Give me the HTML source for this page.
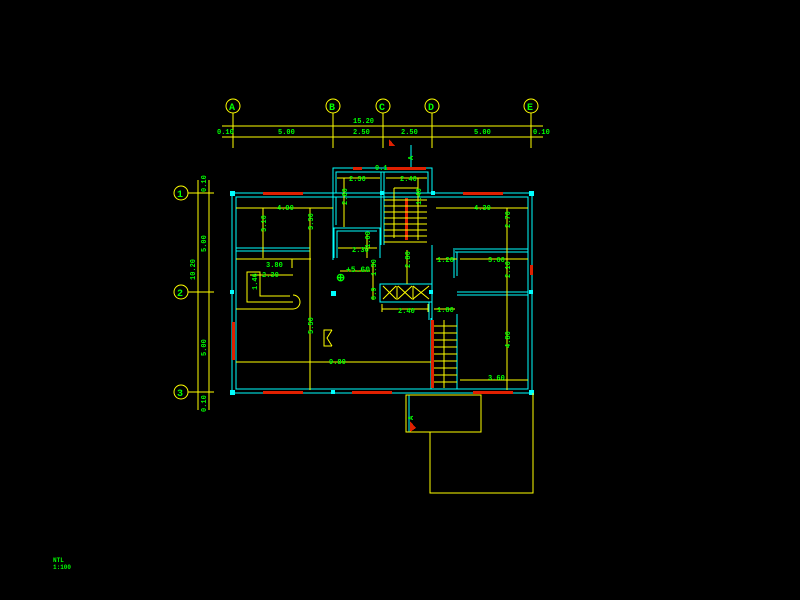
<!DOCTYPE html>
<html><head><meta charset="utf-8"><style>
html,body{margin:0;padding:0;background:#000;width:800px;height:600px;overflow:hidden}
svg text{font-family:"Liberation Mono",monospace;fill:#0f0;font-size:7px;font-weight:bold}
</style></head><body>
<svg width="800" height="600" viewBox="0 0 800 600" xmlns="http://www.w3.org/2000/svg" shape-rendering="crispEdges">
<rect width="800" height="600" fill="#000"/>
<g stroke="#ff0" fill="none" stroke-width="1">
<circle cx="233" cy="106" r="7" shape-rendering="auto"/><circle cx="333" cy="106" r="7" shape-rendering="auto"/><circle cx="383" cy="106" r="7" shape-rendering="auto"/><circle cx="432" cy="106" r="7" shape-rendering="auto"/><circle cx="531" cy="106" r="7" shape-rendering="auto"/>
<line x1="222" y1="126" x2="543" y2="126"/><line x1="222" y1="137" x2="543" y2="137"/>
<line x1="233" y1="113" x2="233" y2="148"/><line x1="333" y1="113" x2="333" y2="148"/><line x1="383" y1="113" x2="383" y2="148"/><line x1="432" y1="113" x2="432" y2="148"/><line x1="531" y1="113" x2="531" y2="148"/>
<circle cx="181" cy="193" r="7" shape-rendering="auto"/><circle cx="181" cy="292" r="7" shape-rendering="auto"/><circle cx="181" cy="392" r="7" shape-rendering="auto"/>
<line x1="198" y1="180" x2="198" y2="410"/><line x1="209" y1="180" x2="209" y2="410"/>
<line x1="188" y1="193" x2="214" y2="193"/><line x1="188" y1="292" x2="214" y2="292"/><line x1="188" y1="392" x2="214" y2="392"/>
</g>
<g>
<text x="229" y="110" style="font-size:10px">A</text><text x="329" y="110" style="font-size:10px">B</text><text x="379" y="110" style="font-size:10px">C</text><text x="428" y="110" style="font-size:10px">D</text><text x="527" y="110" style="font-size:10px">E</text>
<text x="177" y="197" style="font-size:10px">1</text><text x="177" y="296" style="font-size:10px">2</text><text x="177" y="396" style="font-size:10px">3</text>
</g>
<text x="353" y="123">15.20</text><text x="217" y="134">0.10</text><text x="278" y="134">5.00</text><text x="353" y="134">2.50</text><text x="401" y="134">2.50</text><text x="474" y="134">5.00</text><text x="533" y="134">0.10</text>
<text transform="translate(206,192) rotate(-90)">0.10</text><text transform="translate(206,252) rotate(-90)">5.00</text><text transform="translate(195,280) rotate(-90)">10.20</text><text transform="translate(206,356) rotate(-90)">5.00</text><text transform="translate(206,412) rotate(-90)">0.10</text>
<g stroke="#0ff" fill="none" stroke-width="1">
<rect x="232" y="193" width="300" height="200"/><rect x="236" y="197" width="292" height="192"/>
<polyline points="333,193 333,168 432,168 432,193"/><polyline points="336,193 336,172 428,172 428,193"/>
<line x1="381" y1="172" x2="381" y2="245"/><line x1="384" y1="172" x2="384" y2="245"/>
<line x1="333" y1="193" x2="333" y2="260"/><line x1="336" y1="197" x2="336" y2="225"/>
<polyline points="334,258 334,228 380,228 380,258"/><polyline points="337,258 337,231 377,231"/>
<line x1="236" y1="248" x2="310" y2="248"/><line x1="236" y1="251" x2="310" y2="251"/>
<rect x="380" y="284" width="52" height="18"/>
<line x1="432" y1="245" x2="432" y2="320"/><line x1="429" y1="302" x2="429" y2="320"/>
<line x1="457" y1="314" x2="457" y2="389"/><line x1="431" y1="318" x2="431" y2="389"/>
<line x1="455" y1="249" x2="528" y2="249"/><line x1="455" y1="252" x2="528" y2="252"/>
<line x1="457" y1="252" x2="457" y2="276"/>
<line x1="457" y1="292" x2="528" y2="292"/><line x1="457" y1="295" x2="528" y2="295"/>
<line x1="411" y1="145" x2="411" y2="168"/><line x1="409" y1="395" x2="409" y2="432"/>
<line x1="454" y1="248" x2="454" y2="278"/>
</g>
<g fill="#0ff"><rect x="230" y="191" width="5" height="5"/><rect x="529" y="191" width="5" height="5"/><rect x="230" y="390" width="5" height="5"/><rect x="529" y="390" width="5" height="5"/><rect x="380" y="191" width="4" height="4"/><rect x="431" y="191" width="4" height="4"/><rect x="331" y="291" width="5" height="5"/><rect x="230" y="290" width="4" height="4"/><rect x="529" y="290" width="4" height="4"/><rect x="331" y="390" width="4" height="4"/><rect x="429" y="290" width="4" height="4"/></g>
<g fill="#e02000">
<rect x="263" y="192" width="40" height="3"/><rect x="463" y="192" width="40" height="3"/><rect x="387" y="167" width="39" height="3"/><rect x="353" y="167" width="9" height="3"/>
<rect x="263" y="391" width="40" height="3"/><rect x="352" y="391" width="40" height="3"/><rect x="473" y="391" width="40" height="3"/>
<rect x="232" y="322" width="3" height="38"/><rect x="530" y="265" width="3" height="10"/>
<rect x="405" y="198" width="3" height="42"/><rect x="431" y="320" width="3" height="68"/>
<polygon points="389,139 389,146 395,146"/><polygon points="410,421 410,432 416,428"/>
</g>
<g stroke="#ff0" fill="none" stroke-width="1">
<line x1="236" y1="208" x2="333" y2="208"/><line x1="263" y1="208" x2="263" y2="258"/><line x1="310" y1="208" x2="310" y2="390"/>
<line x1="337" y1="178" x2="380" y2="178"/><line x1="344" y1="178" x2="344" y2="227"/>
<line x1="386" y1="178" x2="427" y2="178"/><line x1="418" y1="178" x2="418" y2="240"/>
<line x1="394" y1="188" x2="418" y2="188"/><line x1="394" y1="188" x2="394" y2="238"/>
<line x1="384" y1="200" x2="427" y2="200"/><line x1="384" y1="206" x2="427" y2="206"/><line x1="384" y1="212" x2="427" y2="212"/><line x1="384" y1="218" x2="427" y2="218"/><line x1="384" y1="224" x2="427" y2="224"/><line x1="384" y1="230" x2="427" y2="230"/><line x1="384" y1="236" x2="427" y2="236"/><line x1="384" y1="242" x2="427" y2="242"/>
<line x1="436" y1="208" x2="528" y2="208"/><line x1="507" y1="208" x2="507" y2="390"/>
<line x1="338" y1="248" x2="377" y2="248"/><line x1="367" y1="235" x2="367" y2="258"/>
<line x1="236" y1="259" x2="311" y2="259"/><line x1="292" y1="259" x2="292" y2="268"/>
<polyline points="293,302 247,302 247,272 260,272 260,296 290,296"/>
<path d="M250,275 H293 M236,309 H293" />
<path d="M293,309 a7,7 0 0 0 0,-14" shape-rendering="auto"/>
<line x1="236" y1="362" x2="431" y2="362"/>
<polyline points="332,346 324,346 324,330 332,330"/><path d="M332,330 l-5,8 l5,8" shape-rendering="auto"/>
<line x1="373" y1="262" x2="373" y2="300"/><line x1="407" y1="250" x2="407" y2="284"/>
<line x1="382" y1="309" x2="428" y2="309"/><line x1="382" y1="304" x2="382" y2="312"/><line x1="428" y1="304" x2="428" y2="312"/>
<line x1="434" y1="309" x2="455" y2="309"/>
<path d="M383,286 l13,13 M396,286 l-13,13 M398,286 l14,13 M412,286 l-14,13 M413,286 l16,13 M429,286 l-16,13" shape-rendering="auto"/>
<line x1="397" y1="286" x2="397" y2="300"/><line x1="413" y1="286" x2="413" y2="300"/>
<line x1="434" y1="326" x2="457" y2="326"/><line x1="434" y1="333" x2="457" y2="333"/><line x1="434" y1="340" x2="457" y2="340"/><line x1="434" y1="347" x2="457" y2="347"/><line x1="434" y1="354" x2="457" y2="354"/><line x1="434" y1="361" x2="457" y2="361"/><line x1="434" y1="368" x2="457" y2="368"/><line x1="434" y1="375" x2="457" y2="375"/><line x1="434" y1="382" x2="457" y2="382"/>
<line x1="444" y1="320" x2="444" y2="388"/>
<line x1="436" y1="259" x2="457" y2="259"/><line x1="460" y1="259" x2="528" y2="259"/>
<line x1="460" y1="380" x2="528" y2="380"/>
<line x1="340" y1="271" x2="370" y2="271"/>
<rect x="406" y="395" width="75" height="37"/>
<polyline points="430,432 430,493 533,493 533,393"/>
</g>
<text x="277" y="210">4.90</text><text x="474" y="210">4.30</text><text x="349" y="181">2.30</text><text x="400" y="181">2.40</text><text x="375" y="170">0.1</text>
<text transform="translate(266,232) rotate(-90)">3.10</text><text transform="translate(313,230) rotate(-90)">3.30</text><text transform="translate(347,205) rotate(-90)">2.60</text><text transform="translate(421,205) rotate(-90)">1.40</text><text transform="translate(510,228) rotate(-90)">2.70</text>
<text x="352" y="252">2.30</text><text transform="translate(370,248) rotate(-90)">1.60</text>
<text x="266" y="267">3.80</text><text x="262" y="277">2.30</text><text transform="translate(257,290) rotate(-90)">1.46</text>
<text x="346" y="272" style="font-size:8px">+5.60</text><text x="336" y="281" style="font-size:11px">⊕</text>
<text transform="translate(376,276) rotate(-90)">1.30</text><text transform="translate(410,268) rotate(-90)">2.80</text><text transform="translate(376,300) rotate(-90)">0.9</text>
<text x="398" y="313">2.40</text><text x="437" y="312">1.80</text><text x="437" y="262">1.20</text><text x="488" y="262">3.60</text><text x="488" y="380">3.60</text>
<text transform="translate(510,278) rotate(-90)">2.10</text><text transform="translate(510,348) rotate(-90)">4.80</text><text transform="translate(313,334) rotate(-90)">5.50</text><text x="329" y="364">9.80</text>
<text transform="translate(413,160) rotate(-90)">A</text><text transform="translate(413,420) rotate(-90)">A</text>
<text x="53" y="562" style="font-size:6px">NTL</text><text x="53" y="569" style="font-size:6px">1:100</text>
</svg>
</body></html>
